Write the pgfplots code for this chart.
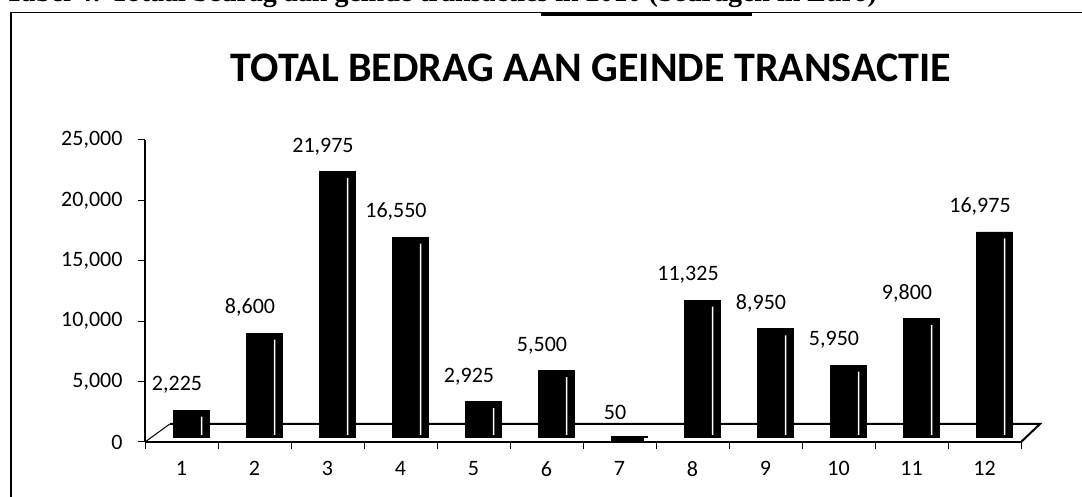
\documentclass[border=0pt]{standalone}
\usepackage{pgfplots}
\pgfplotsset{compat=1.18}
\usepackage{fontspec}
\setmainfont{Carlito}
\newfontfamily\capfont{Liberation Serif}
\begin{document}
\begin{tikzpicture}[x=1pt,y=1pt]
\useasboundingbox (0,0) rectangle (1082,497);
\begin{scope}[overlay]
\clip (0,0) rectangle (1082,497);
\node[overlay, anchor=base west, font=\capfont\bfseries\fontsize{28}{32}\selectfont, inner sep=0] at (5,495.5) {Tabel 4: Totaal bedrag aan geinde transacties in 2010 (bedragen in Euro)};
\draw[overlay, line width=1.2pt] (11,-5) -- (11,484.5) -- (1090,484.5);
\draw[overlay, line width=2.5pt] (541,482.5) -- (752,482.5);
\end{scope}
\node[font=\bfseries\fontsize{42}{50}\selectfont, anchor=base, inner sep=0] at (591,415) {TOTAL BEDRAG AAN GEINDE TRANSACTIE};
\begin{axis}[
  at={(145pt,55pt)}, anchor=south west, scale only axis,
  width=876pt, height=302pt,
  xmin=0.5, xmax=12.5, ymin=0, ymax=25000,
  clip=false,
  axis lines*=left,
  axis line style={line width=1.2pt},
  xtick={1,...,12},
  major x tick style={draw=none},
  minor xtick={0.5,1.5,...,12.5},
  ytick={0,5000,...,25000},
  scaled y ticks=false,
  tick align=outside,
  tick style={black, line width=1pt},
  major tick length=7pt, minor tick length=7pt,
  /pgf/number format/.cd, 1000 sep={,}, assume math mode=true,
  /pgfplots/.cd,
  ticklabel style={font=\fontsize{22}{26}\selectfont},
  yticklabel style={xshift=-12pt},
  xticklabel style={yshift=-9pt},
]
\draw[line width=1pt] (axis cs:0.5,0) -- (axis cs:0.84,1490);
\draw[line width=2pt] (axis cs:0.84,1490) -- (axis cs:12.76,1490) -- (axis cs:12.5,0);
\addplot[ybar, bar width=36pt, bar shift=10pt, fill=black, draw=black, line width=0.8pt, yshift=5pt,
  nodes near coords,
  every node near coord/.append style={font=\fontsize{22}{26}\selectfont, anchor=south, inner sep=0pt, yshift=16pt, xshift=-4.5pt, black}]
coordinates {(1,2225) (2,8600) (3,21975) (4,16550) (5,2925) (6,5500) (7,50) (8,11325) (9,8950) (10,5950) (11,9800) (12,16975)};
\addplot[ybar, bar width=30pt, bar shift=8pt, fill=black, draw=black, line width=3pt, yshift=2pt]
coordinates {(7,50)};
\addplot[ybar, bar width=1.5pt, bar shift=20pt, fill=white, draw=none, yshift=7pt]
coordinates {(1,1525) (2,7900) (3,21275) (4,15850) (5,2225) (6,4800) (8,10625) (9,8250) (10,5250) (11,9100) (12,16275)};
\end{axis}
\end{tikzpicture}
\end{document}
